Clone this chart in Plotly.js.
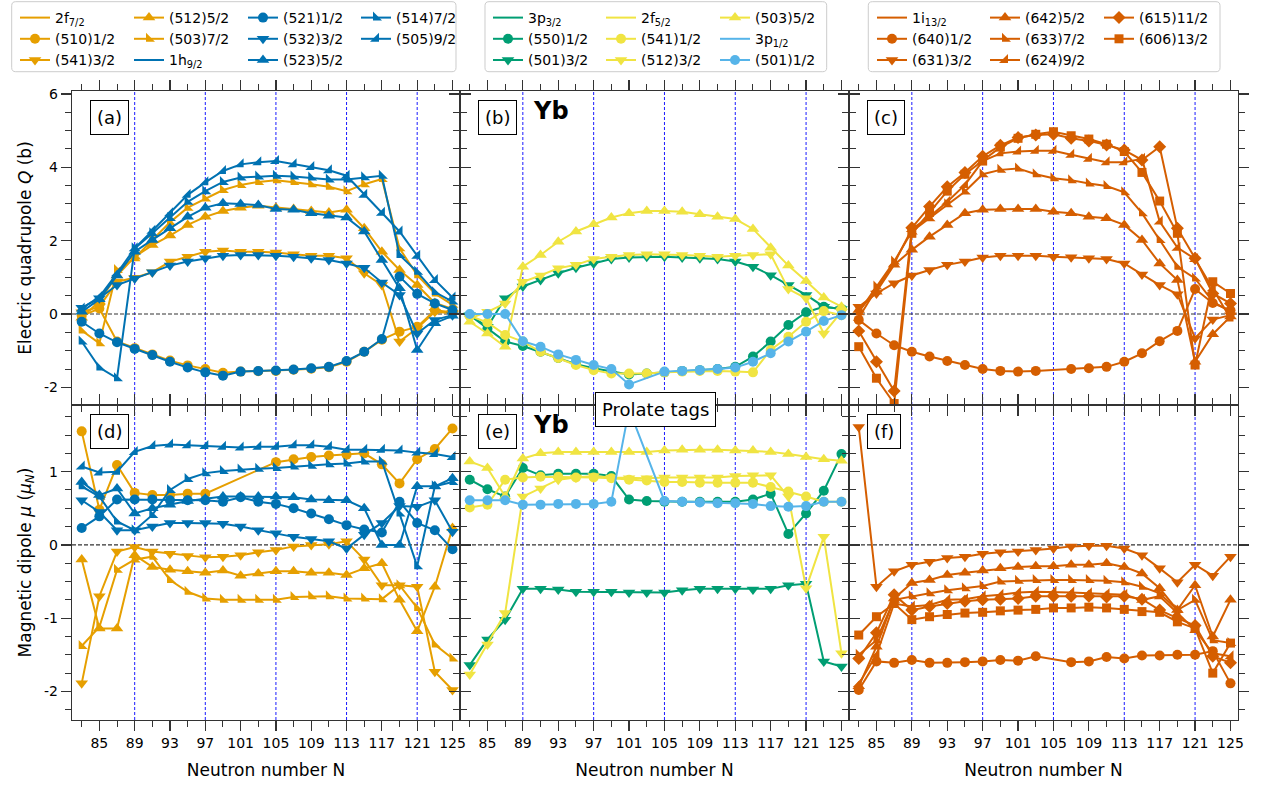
<!DOCTYPE html>
<html><head><meta charset="utf-8">
<script src="https://cdn.plot.ly/plotly-3.0.1.min.js"></script>
<style>html,body{margin:0;padding:0;background:#fff}</style>
</head><body>
<div id="chart" style="width:1262px;height:787px"></div>
<script>
// ---------------- DATA ----------------
const N = [83,85,87,89,91,93,95,97,99,101,103,105,107,109,111,113,115,117,119,121,123,125];

// Panel (a) quadrupole Q (b) — 2f7/2 (orange) and 1h9/2 (blue)
const Q_510_1 = [-0.05,0.15,-0.75,-0.93,-1.10,-1.27,-1.40,-1.50,-1.60,-1.57,-1.56,-1.55,-1.52,-1.49,-1.45,-1.30,-1.03,-0.70,-0.48,-0.35,0.10,0.05];
const Q_541_3 = [0.05,0.20,0.88,0.99,1.14,1.43,1.56,1.70,1.73,1.70,1.70,1.68,1.63,1.59,1.59,1.52,1.11,0.79,-0.75,-0.39,0.06,0.02];
const Q_512_5 = [-0.10,0.35,1.05,1.56,1.88,2.14,2.43,2.65,2.81,2.90,2.95,2.90,2.86,2.81,2.77,2.84,2.34,1.70,1.20,0.79,0.30,0.14];
const Q_503_7 = [-0.45,-0.80,1.20,1.52,2.02,2.50,2.90,3.15,3.38,3.52,3.60,3.65,3.60,3.54,3.47,3.35,3.54,3.68,1.79,1.06,0.56,0.25];
const Q_521_1 = [-0.21,-0.53,-0.77,-0.95,-1.12,-1.30,-1.46,-1.59,-1.68,-1.57,-1.55,-1.54,-1.51,-1.48,-1.44,-1.28,-1.03,-0.68,1.02,0.55,0.29,0.11];
const Q_532_3 = [0.17,0.43,0.79,0.97,1.14,1.32,1.43,1.52,1.59,1.61,1.61,1.59,1.56,1.52,1.47,1.38,1.26,0.86,0.52,-0.53,-0.16,-0.03];
const Q_523_5 = [0.06,0.40,1.05,1.70,2.02,2.34,2.65,2.90,3.02,3.00,2.97,2.86,2.84,2.75,2.68,2.63,2.25,1.47,0.70,-0.98,-0.25,-0.05];
const Q_514_7 = [-0.75,-1.46,-1.75,1.79,2.20,2.62,3.06,3.35,3.60,3.72,3.75,3.77,3.75,3.72,3.67,3.67,3.73,3.77,1.61,1.15,0.60,0.34];
const Q_505_9 = [0.15,0.47,1.11,1.79,2.27,2.75,3.25,3.59,3.90,4.08,4.14,4.17,4.08,4.01,3.92,3.77,3.25,2.76,2.25,1.59,0.93,0.45];

// Panel (d) magnetic moment mu (mu_N)
const M_510_1 = [1.55,0.48,1.09,0.71,0.68,0.68,0.70,0.70,null,null,null,1.13,1.17,1.20,1.22,1.23,1.25,1.10,0.84,1.17,1.31,1.59];
const M_541_3 = [-1.89,-0.70,-0.09,-0.03,-0.09,-0.12,-0.15,-0.17,-0.16,-0.14,-0.10,-0.07,-0.02,0.00,0.01,0.05,-0.20,-0.55,-0.55,-0.57,-1.73,-1.98];
const M_512_5 = [-0.20,-1.14,-1.14,-0.14,-0.30,-0.34,-0.36,-0.38,-0.35,-0.42,-0.39,-0.36,-0.36,-0.38,-0.38,-0.41,-0.32,-0.25,-0.75,-1.18,-0.57,0.23];
const M_503_7 = [-1.38,-1.12,-0.34,-0.20,-0.16,-0.48,-0.64,-0.73,-0.75,-0.75,-0.75,-0.75,-0.71,-0.70,-0.70,-0.73,-0.73,-0.74,-0.55,-0.86,-1.36,-1.55];
const M_521_1 = [0.23,0.39,0.62,0.62,0.62,0.61,0.61,0.61,0.59,0.65,0.59,0.56,0.50,0.43,0.35,0.27,0.21,0.17,0.59,0.30,0.20,-0.06];
const M_532_3 = [0.61,0.45,0.20,0.20,0.25,0.30,0.30,0.30,0.29,0.25,0.20,0.16,0.11,0.08,0.05,-0.05,0.14,0.30,0.53,0.52,0.61,0.18];
const M_523_5 = [0.86,0.68,0.77,0.43,0.50,0.55,0.60,0.63,0.66,0.66,0.66,0.66,0.65,0.62,0.61,0.61,0.50,0.00,0.00,0.80,0.80,0.91];
const M_514_7 = [0.80,0.66,0.32,0.20,0.41,0.75,0.90,0.98,1.01,1.03,1.04,1.05,1.07,1.08,1.10,1.11,1.14,1.14,0.43,-0.29,0.80,0.86];
const M_505_9 = [1.07,0.99,1.00,1.27,1.35,1.37,1.36,1.35,1.34,1.33,1.34,1.34,1.36,1.36,1.34,1.30,1.30,1.30,1.29,1.26,1.24,1.20];

// Panel (b) Q — 3p3/2 (green), 2f5/2 (yellow), 3p1/2 (sky blue)
const Q_550_1 = [-0.03,-0.40,-0.75,-0.87,-1.03,-1.20,-1.37,-1.48,-1.57,-1.65,-1.62,-1.59,-1.55,-1.53,-1.50,-1.44,-1.16,-0.75,-0.30,0.05,0.20,0.14];
const Q_501_3 = [-0.03,-0.35,0.43,0.75,0.93,1.11,1.26,1.38,1.50,1.54,1.56,1.56,1.54,1.52,1.50,1.43,1.29,1.06,0.79,0.52,0.20,0.14];
const Q_541_1 = [-0.05,-0.23,-0.57,-0.75,-1.03,-1.20,-1.39,-1.53,-1.62,-1.62,-1.62,-1.59,-1.57,-1.55,-1.55,-1.57,-1.59,-0.98,-0.62,-0.21,0.08,-0.03];
const Q_512_3 = [-0.12,0.06,0.29,0.88,1.05,1.25,1.34,1.50,1.56,1.61,1.63,1.63,1.61,1.59,1.56,1.59,1.61,1.63,0.68,0.43,-0.53,0.06];
const Q_503_5 = [-0.21,-0.53,-0.89,1.29,1.61,1.97,2.25,2.45,2.63,2.75,2.81,2.81,2.79,2.72,2.65,2.59,2.32,1.81,1.32,0.90,0.45,0.20];
const Q_501_1 = [0.00,0.00,0.00,-0.74,-0.89,-1.10,-1.25,-1.39,-1.50,-1.92,null,-1.57,-1.55,-1.53,-1.50,-1.46,-1.30,-1.07,-0.75,-0.48,-0.19,-0.03];

// Panel (e) mu
const M_550_1 = [0.89,0.76,0.66,1.05,0.95,0.97,0.97,0.97,0.94,0.62,0.60,0.59,0.59,0.59,0.59,0.59,0.62,0.70,0.15,0.43,0.74,1.24];
const M_501_3 = [-1.64,-1.29,-1.02,-0.60,-0.60,-0.61,-0.64,-0.64,-0.64,-0.65,-0.65,-0.65,-0.62,-0.60,-0.60,-0.60,-0.61,-0.60,-0.55,-0.53,-1.59,-1.66];
const M_541_1 = [0.51,0.55,0.89,0.92,0.93,0.93,0.92,0.92,0.91,0.89,0.88,0.86,0.86,0.85,0.85,0.85,0.85,0.79,0.73,0.66,0.59,0.59];
const M_512_3 = [-1.77,-1.36,-0.93,0.66,0.77,0.89,0.92,0.94,0.92,0.91,0.91,0.92,0.92,0.92,0.92,0.94,0.95,0.95,0.66,-0.59,0.11,-1.48];
const M_503_5 = [1.14,1.05,0.66,1.18,1.25,1.27,1.27,1.27,1.27,1.27,1.27,1.29,1.30,1.30,1.30,1.29,1.29,1.27,1.24,1.20,1.17,1.15];
const M_501_1 = [0.61,0.61,0.61,0.55,0.55,0.56,0.56,0.56,0.59,1.85,null,0.60,0.59,0.58,0.57,0.57,0.56,0.53,0.52,0.53,0.59,0.59];

// Panel (c) Q — 1i13/2 (vermilion)
const Q_640_1 = [-0.16,-0.53,-0.85,-1.03,-1.16,-1.28,-1.39,-1.50,-1.55,-1.57,-1.55,null,-1.50,-1.48,-1.44,-1.30,-1.07,-0.74,-0.46,0.68,0.30,0.10];
const Q_631_3 = [0.20,0.56,0.84,1.05,1.20,1.34,1.43,1.54,1.59,1.59,1.59,1.56,1.55,1.52,1.50,1.38,1.08,0.79,0.54,-0.66,-0.15,-0.03];
const Q_642_5 = [0.11,0.61,1.34,1.75,2.11,2.43,2.75,2.84,2.86,2.86,2.86,2.79,2.75,2.65,2.61,2.43,2.02,1.38,0.93,-1.30,-0.55,-0.07];
const Q_633_7 = [0.05,0.75,1.43,2.25,2.61,2.99,3.34,3.81,3.93,3.97,3.81,3.70,3.65,3.56,3.49,3.32,2.75,2.02,1.29,0.97,0.34,0.06];
const Q_624_9 = [-0.10,0.68,1.38,2.32,2.65,3.06,3.52,4.17,4.38,4.43,4.45,4.45,4.34,4.23,4.14,4.14,4.23,2.52,1.81,1.50,0.70,-0.12];
const Q_615_11 = [-0.46,-1.30,-2.10,2.35,2.93,3.47,3.86,4.30,4.60,4.81,4.88,4.90,4.79,4.72,4.61,4.47,4.20,4.56,2.34,1.52,0.56,0.29];
const Q_606_13 = [-0.89,-1.75,-2.44,2.20,2.77,3.35,3.81,4.17,4.55,4.79,4.90,4.97,4.86,4.77,4.63,4.43,3.86,3.08,2.20,-1.39,0.88,0.56];

// Panel (f) mu
const M_640_1 = [-1.98,-1.59,-1.61,-1.57,-1.61,-1.61,-1.60,-1.59,-1.57,-1.58,-1.52,null,-1.60,-1.59,-1.53,-1.55,-1.51,-1.51,-1.50,-1.50,-1.45,-1.89];
const M_631_3 = [1.61,-0.57,-0.36,-0.27,-0.23,-0.18,-0.16,-0.12,-0.10,-0.09,-0.07,-0.05,-0.02,-0.01,-0.01,-0.05,-0.14,-0.32,-0.51,-0.27,-0.42,-0.16];
const M_642_5 = [-1.93,-1.39,-0.73,-0.52,-0.48,-0.41,-0.38,-0.35,-0.32,-0.30,-0.29,-0.29,-0.27,-0.27,-0.25,-0.30,-0.39,-0.59,-0.89,-0.55,-1.25,-0.75];
const M_633_7 = [-1.50,-1.30,-0.75,-0.70,-0.66,-0.62,-0.59,-0.56,-0.50,-0.49,-0.48,-0.48,-0.48,-0.48,-0.49,-0.51,-0.57,-0.66,-0.89,-0.75,-1.30,-1.34];
const M_624_9 = [-1.90,-1.50,-0.80,-0.84,-0.82,-0.75,-0.74,-0.70,-0.68,-0.65,-0.64,-0.64,-0.65,-0.66,-0.67,-0.68,-0.75,-0.70,-0.93,-1.16,-1.48,-1.52];
const M_615_11 = [-1.55,-1.20,-0.68,-0.89,-0.84,-0.80,-0.77,-0.75,-0.74,-0.73,-0.70,-0.70,-0.70,-0.70,-0.71,-0.70,-0.74,-0.89,-1.00,-1.10,-1.52,-1.61];
const M_606_13 = [-1.23,-0.98,-0.80,-1.02,-0.98,-0.95,-0.93,-0.92,-0.90,-0.89,-0.88,-0.86,-0.86,-0.85,-0.86,-0.88,-0.91,-0.92,-1.05,-1.14,-1.75,-1.34];

// Tick values / labels
const X_TICKS = [85,89,93,97,101,105,109,113,117,121,125];
const Q_TICKS = [-2,0,2,4,6];
const Q_TICKTEXT = ['-2','0','2','4','6'];
const M_TICKS = [-2,-1,0,1];
const M_TICKTEXT = ['-2','-1','0','1'];
const GUIDE_N = [89,97,105,113,121];

// ---------------- STYLE ----------------
const W = 1262, H = 787;
const COL = {or:'#E69F00', bl:'#0072B2', gr:'#009E73', ye:'#F0E442', sk:'#56B4E9', ve:'#D55E00'};
const SYM = {1:'circle', 3:'triangle-down', 5:'triangle-up', 7:'triangle-sw', 9:'triangle-se', 11:'diamond', 13:'square'};
const SIZE = {1:10, 3:11, 5:11, 7:10, 9:10, 11:10, 13:9};
const FONT = 'DejaVu Sans, Liberation Sans, sans-serif';

// [legend label, colour, 2*Omega (null = shell header), Q array, mu array, panel column, legend id]
const SERIES = [
  ['2f<sub>7/2</sub>', COL.or, null, null, null, 0, 'legend'],
  ['(510)1/2', COL.or, 1, Q_510_1, M_510_1, 0, 'legend'],
  ['(541)3/2', COL.or, 3, Q_541_3, M_541_3, 0, 'legend'],
  ['(512)5/2', COL.or, 5, Q_512_5, M_512_5, 0, 'legend2'],
  ['(503)7/2', COL.or, 7, Q_503_7, M_503_7, 0, 'legend2'],
  ['1h<sub>9/2</sub>', COL.bl, null, null, null, 0, 'legend2'],
  ['(521)1/2', COL.bl, 1, Q_521_1, M_521_1, 0, 'legend3'],
  ['(532)3/2', COL.bl, 3, Q_532_3, M_532_3, 0, 'legend3'],
  ['(523)5/2', COL.bl, 5, Q_523_5, M_523_5, 0, 'legend3'],
  ['(514)7/2', COL.bl, 7, Q_514_7, M_514_7, 0, 'legend4'],
  ['(505)9/2', COL.bl, 9, Q_505_9, M_505_9, 0, 'legend4'],

  ['3p<sub>3/2</sub>', COL.gr, null, null, null, 1, 'legend5'],
  ['(550)1/2', COL.gr, 1, Q_550_1, M_550_1, 1, 'legend5'],
  ['(501)3/2', COL.gr, 3, Q_501_3, M_501_3, 1, 'legend5'],
  ['2f<sub>5/2</sub>', COL.ye, null, null, null, 1, 'legend6'],
  ['(541)1/2', COL.ye, 1, Q_541_1, M_541_1, 1, 'legend6'],
  ['(512)3/2', COL.ye, 3, Q_512_3, M_512_3, 1, 'legend6'],
  ['(503)5/2', COL.ye, 5, Q_503_5, M_503_5, 1, 'legend7'],
  ['3p<sub>1/2</sub>', COL.sk, null, null, null, 1, 'legend7'],
  ['(501)1/2', COL.sk, 1, Q_501_1, M_501_1, 1, 'legend7'],

  ['1i<sub>13/2</sub>', COL.ve, null, null, null, 2, 'legend8'],
  ['(640)1/2', COL.ve, 1, Q_640_1, M_640_1, 2, 'legend8'],
  ['(631)3/2', COL.ve, 3, Q_631_3, M_631_3, 2, 'legend8'],
  ['(642)5/2', COL.ve, 5, Q_642_5, M_642_5, 2, 'legend9'],
  ['(633)7/2', COL.ve, 7, Q_633_7, M_633_7, 2, 'legend9'],
  ['(624)9/2', COL.ve, 9, Q_624_9, M_624_9, 2, 'legend9'],
  ['(615)11/2', COL.ve, 11, Q_615_11, M_615_11, 2, 'legend10'],
  ['(606)13/2', COL.ve, 13, Q_606_13, M_606_13, 2, 'legend10'],
];

function ax(i){ return i === 1 ? '' : String(i); }

const traces = [];
SERIES.forEach(s => {
  const [label, color, k, q, m, col, leg] = s;
  const top = col + 1, bot = col + 4;
  if (k === null) {
    traces.push({type:'scatter', mode:'lines', x:[null], y:[null], name:label,
      line:{color, width:2}, legend:leg, showlegend:true,
      xaxis:'x'+ax(top), yaxis:'y'+ax(top), hoverinfo:'skip'});
    return;
  }
  const mk = {symbol:SYM[k], size:SIZE[k], color, line:{width:0}};
  traces.push({type:'scatter', mode:'lines+markers', x:N, y:q, name:label,
    line:{color, width:2}, marker:mk, legend:leg, showlegend:true, connectgaps:true,
    xaxis:'x'+ax(top), yaxis:'y'+ax(top)});
  traces.push({type:'scatter', mode:'lines+markers', x:N, y:m, name:label,
    line:{color, width:2}, marker:mk, legend:leg, showlegend:false, connectgaps:true,
    xaxis:'x'+ax(bot), yaxis:'y'+ax(bot)});
});

// ---------------- LAYOUT ----------------
const colPx = [[72,460],[460,849],[849,1238]];
const rowPx = [[91,405],[405,720]];
const QR = [-2.48, 6.08], MR = [-2.39, 1.91], XR = [81.9, 125.85];

const layout = {
  width:W, height:H, margin:{l:0,r:0,t:0,b:0},
  paper_bgcolor:'#fff', plot_bgcolor:'rgba(0,0,0,0)',
  font:{family:FONT, size:14, color:'#000'},
  showlegend:true, shapes:[], annotations:[]
};

for (let r = 0; r < 2; r++) {
  for (let c = 0; c < 3; c++) {
    const i = r*3 + c + 1;
    const xd = [colPx[c][0]/W, colPx[c][1]/W];
    const yd = [1 - rowPx[r][1]/H, 1 - rowPx[r][0]/H];
    layout['xaxis'+ax(i)] = {
      domain:xd, anchor:'y'+ax(i), range:XR, tickvals:X_TICKS,
      showticklabels: r === 1, ticks:'outside', ticklen:10, tickwidth:1.2, tickcolor:'#333',
      minor:{tick0:83, dtick:2, ticks:'outside', ticklen:6, tickwidth:1, tickcolor:'#333'},
      showline:true, linecolor:'#333', linewidth:1.2, mirror:'allticks',
      showgrid:false, zeroline:false, automargin:false,
      tickfont:{size:14, family:FONT},
      title: r === 1 ? {text:'Neutron number N', font:{size:17, family:FONT}, standoff:14} : undefined
    };
    const isQ = r === 0;
    layout['yaxis'+ax(i)] = {
      domain:yd, anchor:'x'+ax(i), range: isQ ? QR : MR,
      tickvals: isQ ? Q_TICKS : M_TICKS, ticktext: isQ ? Q_TICKTEXT : M_TICKTEXT,
      showticklabels: c === 0, ticks:'outside', ticklen:10, tickwidth:1.2, tickcolor:'#333',
      minor:{tick0:0, dtick: isQ ? 0.5 : 0.25, ticks:'outside', ticklen:6, tickwidth:1, tickcolor:'#333'},
      showline:true, linecolor:'#333', linewidth:1.2, mirror:'allticks',
      showgrid:false, zeroline:false, automargin:false,
      tickfont:{size:14, family:FONT},
      title: c === 0 ? {text: isQ ? 'Electric quadrupole <i>Q</i> (b)' : 'Magnetic dipole <i>μ</i> (<i>μ<sub>N</sub></i>)',
                        font:{size:17, family:FONT}, standoff:8} : undefined
    };
    // guide lines
    GUIDE_N.forEach(n => layout.shapes.push({type:'line', layer:'below', xref:'x'+ax(i), yref:'y'+ax(i)+' domain',
      x0:n, x1:n, y0:0, y1:1, line:{color:'#0000ff', width:0.9, dash:'3px,2px'}}));
    layout.shapes.push({type:'line', layer:'below', xref:'x'+ax(i)+' domain', yref:'y'+ax(i),
      x0:0, x1:1, y0:0, y1:0, line:{color:'#333', width:1.1, dash:'4px,2px'}});
    // panel letter
    layout.annotations.push({xref:'x'+ax(i)+' domain', yref:'y'+ax(i)+' domain', x:0.047, y:0.97,
      xanchor:'left', yanchor:'top', showarrow:false, text:'('+'abcdef'[i-1]+')',
      font:{size:18, family:FONT}, bordercolor:'#000', borderwidth:1, borderpad:6, bgcolor:'#fff'});
  }
}
// Element tags
[2,5].forEach(i => layout.annotations.push({xref:'x'+ax(i)+' domain', yref:'y'+ax(i)+' domain', x:0.183, y:0.935,
  xanchor:'left', yanchor:'middle', showarrow:false, text:'<b>Yb</b>', font:{size:24, family:FONT}}));
layout.annotations.push({xref:'paper', yref:'paper', x:655/W, y:1-409/H, xanchor:'center', yanchor:'middle',
  showarrow:false, text:'Prolate tags', font:{size:18, family:FONT},
  bordercolor:'#000', borderwidth:1, borderpad:6, bgcolor:'#fff'});

// Legends (one per legend column)
const LEG_X = [15,129,243,356, 488,601,715, 872,985,1099];
LEG_X.forEach((px, j) => {
  layout[j === 0 ? 'legend' : 'legend'+(j+1)] = {
    x:px/W, y:1-2/H, xanchor:'left', yanchor:'top', orientation:'v',
    bgcolor:'rgba(0,0,0,0)', borderwidth:0, tracegroupgap:0, itemwidth:30,
    font:{size:14, family:FONT}, itemclick:false, itemdoubleclick:false
  };
});
// Legend frames
function roundRect(x0,y0,x1,y1,r){
  const X = v => (v/W).toFixed(5), Y = v => (1 - v/H).toFixed(5);
  return `M${X(x0+r)},${Y(y0)} L${X(x1-r)},${Y(y0)} Q${X(x1)},${Y(y0)} ${X(x1)},${Y(y0+r)} `+
         `L${X(x1)},${Y(y1-r)} Q${X(x1)},${Y(y1)} ${X(x1-r)},${Y(y1)} L${X(x0+r)},${Y(y1)} `+
         `Q${X(x0)},${Y(y1)} ${X(x0)},${Y(y1-r)} L${X(x0)},${Y(y0+r)} Q${X(x0)},${Y(y0)} ${X(x0+r)},${Y(y0)} Z`;
}
[[11.7,1.7,456,71.7],[485,1.7,826.7,71.7],[868.3,1.7,1220,71.7]].forEach(b => {
  layout.shapes.push({type:'path', xref:'paper', yref:'paper', layer:'below', path:roundRect(b[0],b[1],b[2],b[3],4),
    line:{color:'#cccccc', width:1}, fillcolor:'rgba(255,255,255,0.8)'});
});

Plotly.newPlot('chart', traces, layout, {displayModeBar:false, staticPlot:true});
</script>
</body></html>
